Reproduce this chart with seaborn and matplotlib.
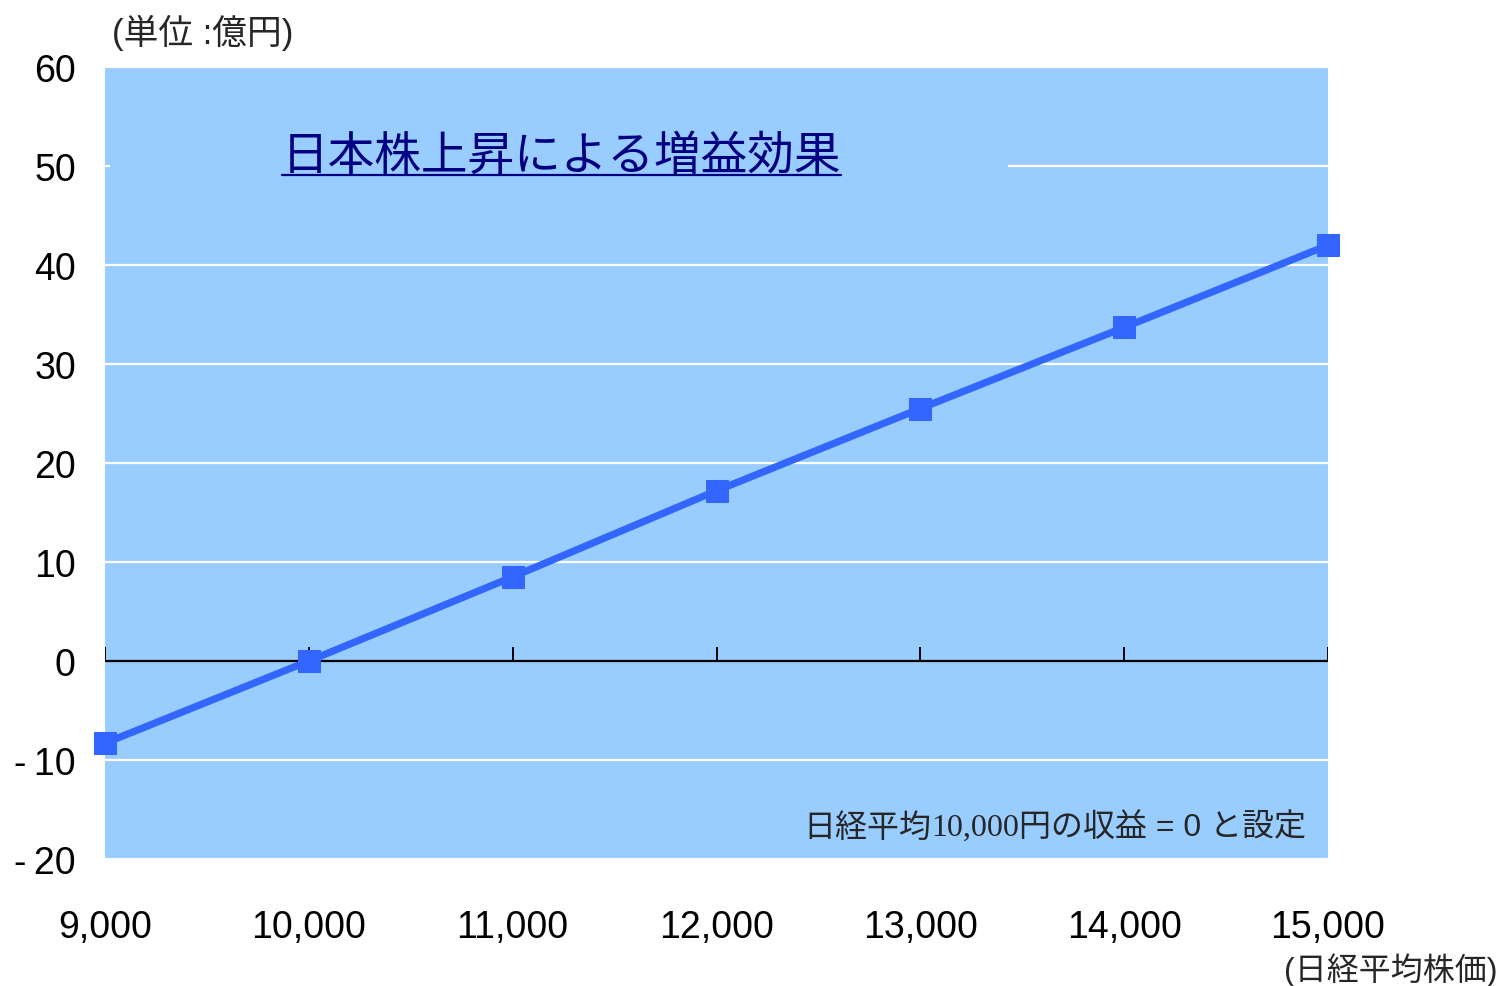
import matplotlib
matplotlib.use("Agg")
import matplotlib.pyplot as plt
from matplotlib.patches import Rectangle
from matplotlib.lines import Line2D
import seaborn as sns
import pandas as pd

# Nikkei average level (yen) and resulting profit effect (100 million yen)
nikkei = [9000, 10000, 11000, 12000, 13000, 14000, 15000]
profit = [-8.3, 0.0, 8.5, 17.2, 25.5, 33.7, 42.0]
x_tick_labels = ["9,000", "10,000", "11,000", "12,000", "13,000", "14,000", "15,000"]
y_ticks = [60, 50, 40, 30, 20, 10, 0, -10, -20]
y_tick_labels = ["60", "50", "40", "30", "20", "10", "0", "-\u200910", "-\u200920"]

title_text = "日本株上昇による増益効果"
unit_text = "(単位 :億円)"
xaxis_text = "(日経平均株価)"
note_parts = ["日経平均", "10,000", "円の収益 = 0 と設定"]

sns.set_theme(style="white")
plt.rcParams["font.family"] = ["Liberation Sans", "Noto Sans CJK JP", "DejaVu Sans"]

BG = "#99CCFF"
LINE = "#3366FF"
NAVY = "#000080"

df = pd.DataFrame({"nikkei": nikkei, "profit": profit})

fig = plt.figure(figsize=(15.01, 9.87), dpi=100)
ax = fig.add_axes([105 / 1501, 1 - 860 / 987, (1328 - 105) / 1501, (860 - 68) / 987])
ax.set_facecolor(BG)

ax.set_xlim(nikkei[0], nikkei[-1])
ax.set_ylim(-20, 60)

# white horizontal grid
for yv in y_ticks:
    if yv != 0:
        ax.axhline(yv, color="white", lw=1.6, zorder=1)

# panel behind the title hides part of the 50 gridline
ax.add_patch(Rectangle((0.004, 46.5), 0.734, 7.5, transform=ax.get_yaxis_transform(),
                       facecolor=BG, edgecolor="none", zorder=2))

# zero line with upward tick marks at each category
ax.axhline(0, color="black", lw=1.6, zorder=3)
ax.vlines(nikkei, 0, 1.4, color="black", lw=1.4, zorder=3)

sns.lineplot(data=df, x="nikkei", y="profit", ax=ax, color=LINE, lw=5.2,
             marker="s", markersize=16, markeredgecolor=LINE, markerfacecolor=LINE,
             zorder=5, clip_on=False)

for s in ax.spines.values():
    s.set_visible(False)

ax.set_xticks(nikkei)
ax.set_xticklabels(x_tick_labels, fontsize=27, color="black")
ax.set_yticks(y_ticks)
ax.set_yticklabels(y_tick_labels, fontsize=27, color="black")
ax.tick_params(axis="x", length=0, pad=36)
ax.tick_params(axis="y", length=0, pad=21)
ax.set_xlabel("")
ax.set_ylabel("")

# title with underline
title = ax.text(0.1447, 51.0, title_text, transform=ax.get_yaxis_transform(),
                fontsize=33.6, color=NAVY, ha="left", va="center", zorder=6,
                family=["Noto Sans CJK JP"])

fig.text(112 / 1501, 1 - 33 / 987, unit_text, fontsize=25, ha="left", va="center")
fig.text(1497 / 1501, 1 - 970 / 987, xaxis_text, fontsize=23, ha="right", va="center")

fig.canvas.draw()
renderer = fig.canvas.get_renderer()
bb = title.get_window_extent(renderer)
uy = 1 - 176 / 987
fig.add_artist(Line2D([bb.x0 / 1501, bb.x1 / 1501], [uy, uy], transform=fig.transFigure,
                      color=NAVY, lw=1.6, zorder=8))

# note in the lower right, digits set in a serif face
note_y = 1 - 828 / 987
fams = [["Noto Sans CJK JP"], ["Liberation Serif"], ["Liberation Sans", "Noto Sans CJK JP"]]
x_cursor = 1306
for part, fam in zip(reversed(note_parts), reversed(fams)):
    t = fig.text(x_cursor / 1501, note_y, part, fontsize=23, ha="right", va="center",
                 family=fam, zorder=7)
    fig.canvas.draw()
    x_cursor -= t.get_window_extent(renderer).width

fig.savefig("out.png", dpi=100)
